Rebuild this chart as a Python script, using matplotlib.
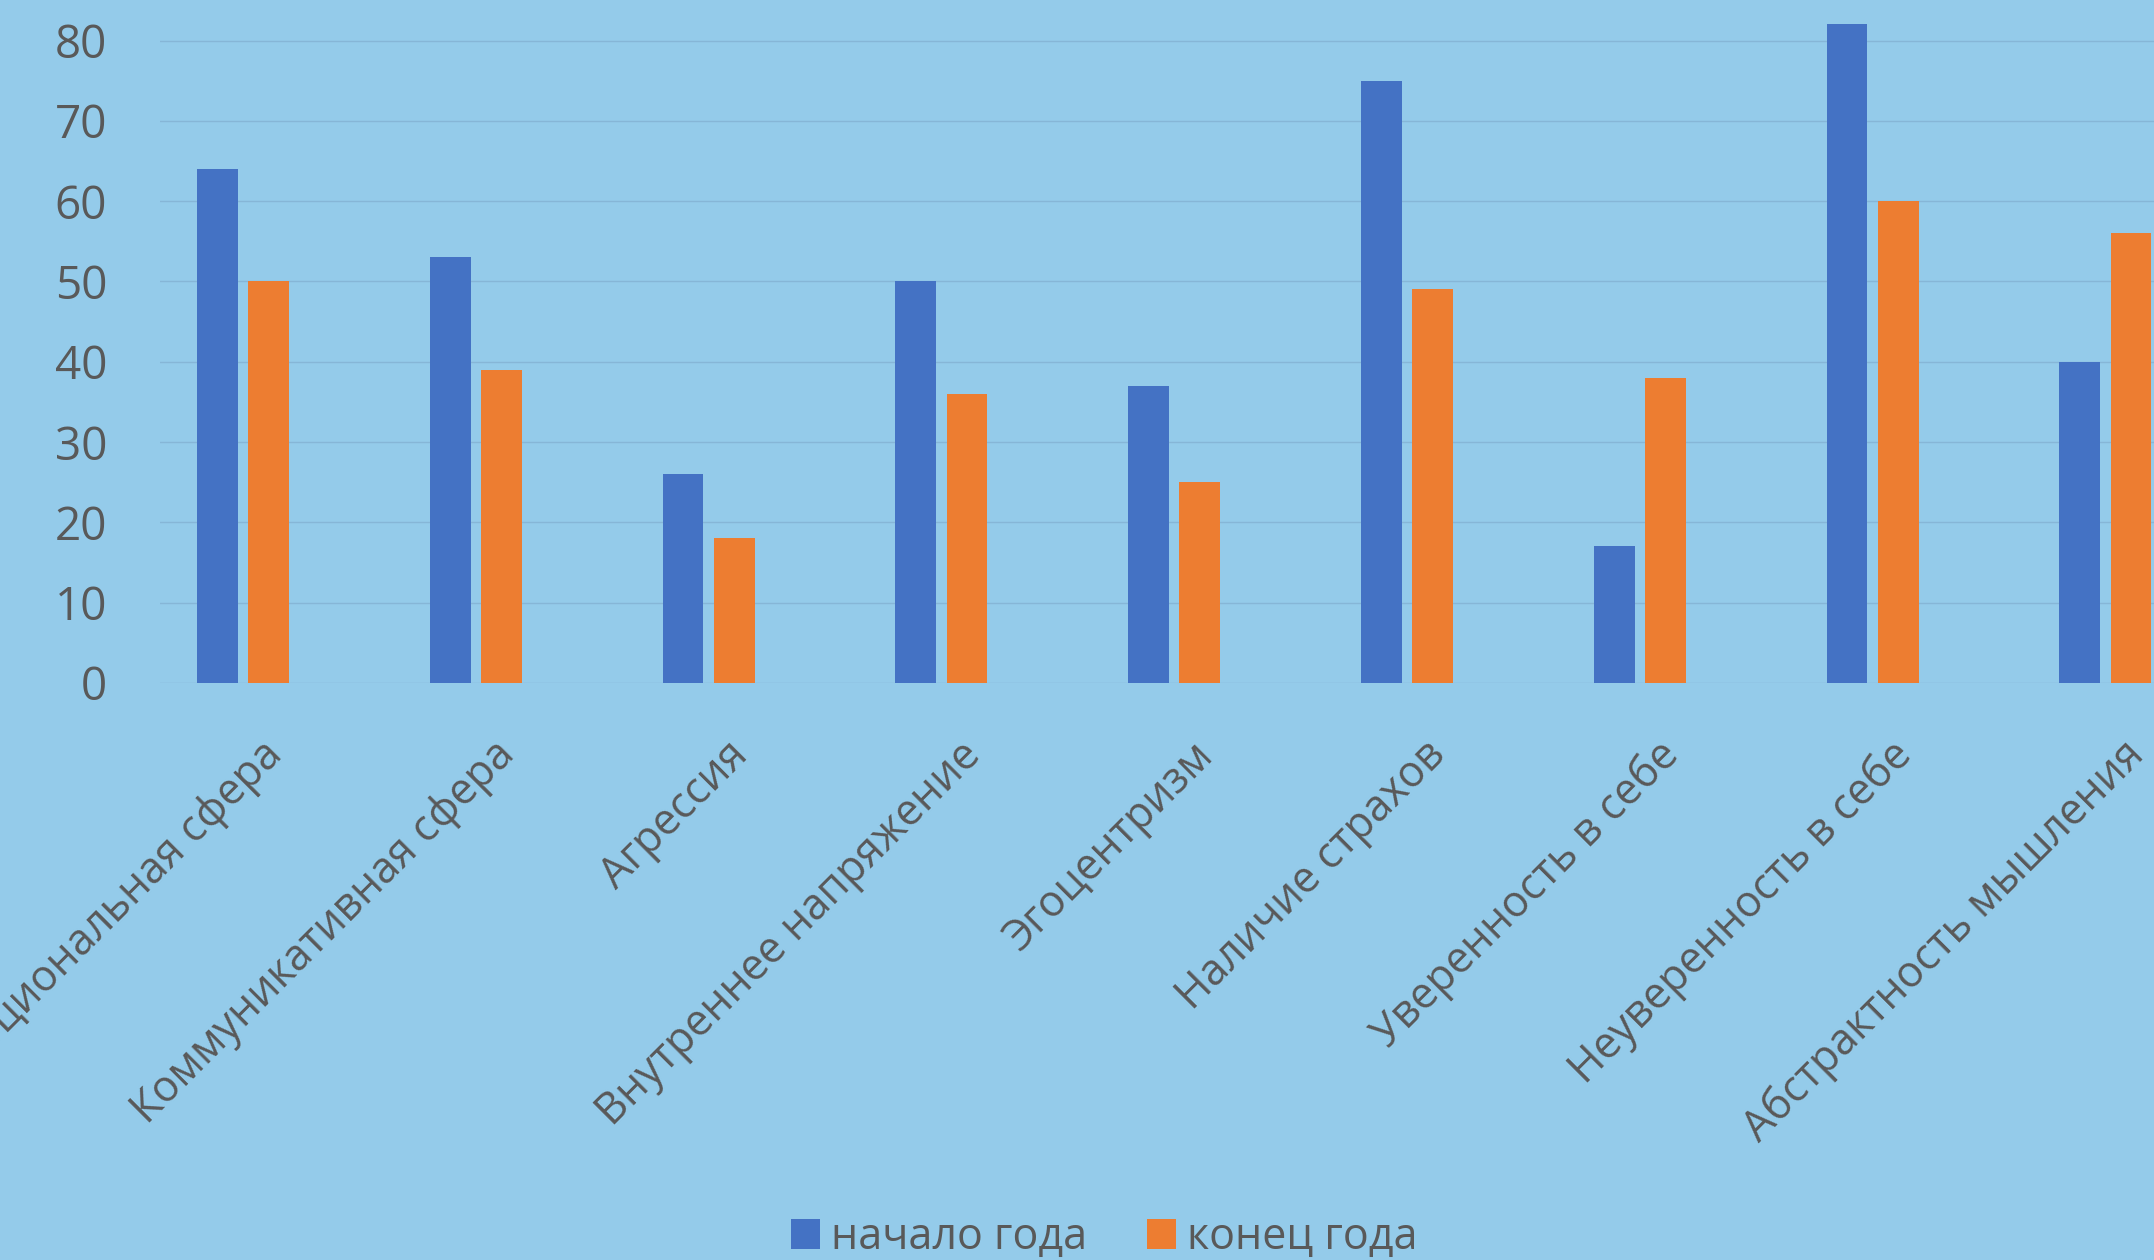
import matplotlib
matplotlib.use('Agg')
import matplotlib.pyplot as plt
import numpy as np
from matplotlib.transforms import ScaledTranslation
from matplotlib.patches import Patch

categories = ["Эмоциональная сфера", "Коммуникативная сфера", "Агрессия",
              "Внутреннее напряжение", "Эгоцентризм", "Наличие страхов",
              "Уверенность в себе", "Неуверенность в себе", "Абстрактность мышления"]
start_year = [64, 53, 26, 50, 37, 75, 17, 82, 40]
end_year = [50, 39, 18, 36, 25, 49, 38, 60, 56]
series_names = ["начало года", "конец года"]
yticks = [0, 10, 20, 30, 40, 50, 60, 70, 80]

plt.rcParams['font.family'] = ['Open Sans', 'DejaVu Sans']

W, H = 2154, 1260
bg = '#94cbea'
blue = '#4472c4'
orange = '#ed7d31'
txt = '#595959'

fig = plt.figure(figsize=(W / 100, H / 100), dpi=100)
fig.patch.set_facecolor(bg)

left_px = 160
zero_px = 683
ax = fig.add_axes([left_px / W, (H - zero_px) / H, 1 - left_px / W, zero_px / H])
ax.set_facecolor(bg)

g0 = 243.0
step = 232.8
x = np.arange(len(categories))
w = 0.176
off = 0.11
ax.bar(x - off, start_year, w, color=blue, zorder=3)
ax.bar(x + off, end_year, w, color=orange, zorder=3)

ax.set_xlim((left_px - g0) / step, (W - g0) / step)
ax.set_ylim(0, 80 * zero_px / (zero_px - 40.5))

ax.set_yticks(yticks)
ax.set_yticklabels([str(t) for t in yticks])
ax.yaxis.grid(True, color='#86b6d7', lw=1.0, zorder=1)
ax.set_axisbelow(True)
for s in ax.spines.values():
    s.set_visible(False)

ax.tick_params(axis='y', length=0, pad=38, labelsize=33, labelcolor=txt)
ax.tick_params(axis='x', length=0, pad=0, labelsize=31, labelcolor=txt)

ax.set_xticks(x)
labels = ax.set_xticklabels(categories, rotation=45, ha='right', va='top',
                            rotation_mode='anchor')
offset = ScaledTranslation(0.17, -0.50, fig.dpi_scale_trans)
for lab in labels:
    lab.set_transform(lab.get_transform() + offset)

handles = [Patch(facecolor=blue, edgecolor='none'), Patch(facecolor=orange, edgecolor='none')]
fig.legend(handles, series_names, loc='center', bbox_to_anchor=(1104 / W, 22 / H),
           ncol=2, frameon=False, fontsize=31, labelcolor=txt,
           handlelength=0.68, handleheight=0.68, handletextpad=0.25,
           columnspacing=1.4, borderaxespad=0, borderpad=0)

fig.savefig('out.png', dpi=100, facecolor=bg)
